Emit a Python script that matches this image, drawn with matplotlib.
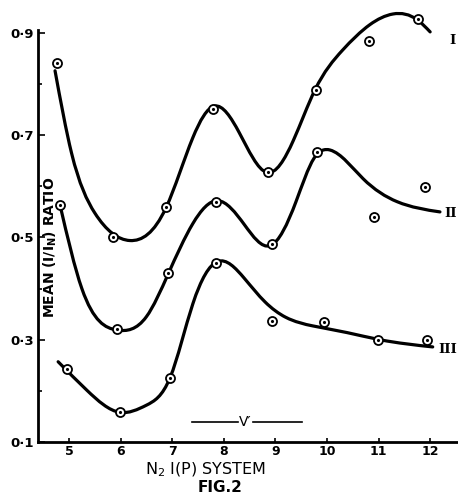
import numpy as np
import matplotlib
matplotlib.use("Agg")
import matplotlib.pyplot as plt
from matplotlib.path import Path
from matplotlib.patches import PathPatch

# measured points (circles)
pts1_x = [4.77, 5.85, 6.88, 7.79, 8.86, 9.79, 10.81, 11.76]
pts1_y = [0.842, 0.500, 0.560, 0.752, 0.628, 0.789, 0.884, 0.927]
pts2_x = [4.83, 5.93, 6.92, 7.85, 8.93, 9.81, 10.91, 11.90]
pts2_y = [0.564, 0.321, 0.430, 0.570, 0.488, 0.667, 0.541, 0.599]
pts3_x = [4.96, 5.99, 6.96, 7.85, 8.93, 9.94, 10.99, 11.94]
pts3_y = [0.242, 0.158, 0.226, 0.450, 0.337, 0.335, 0.300, 0.300]

# hand drawn curves, knots
crv1_x = [4.73, 5.05, 5.50, 6.18, 6.88, 7.40, 7.82, 8.30, 8.84, 9.35, 9.77, 10.30,
          10.83, 11.28, 11.76, 12.00]
crv1_y = [0.826, 0.665, 0.548, 0.494, 0.558, 0.695, 0.757, 0.705, 0.627, 0.690, 0.789, 0.866,
          0.916, 0.937, 0.925, 0.902]
crv2_x = [4.83, 5.25, 5.93, 6.50, 6.92, 7.40, 7.88, 8.40, 8.90, 9.40, 9.75, 10.06,
          10.70, 11.36, 12.19]
crv2_y = [0.562, 0.400, 0.319, 0.345, 0.428, 0.527, 0.572, 0.525, 0.484, 0.570, 0.655, 0.671,
          0.615, 0.570, 0.550]
crv3_x = [4.79, 5.35, 5.99, 6.50, 6.96, 7.40, 7.88, 8.40, 8.80, 9.20, 9.73, 10.39,
          11.03, 12.05]
crv3_y = [0.257, 0.201, 0.158, 0.172, 0.226, 0.370, 0.453, 0.420, 0.374, 0.344, 0.327, 0.314,
          0.300, 0.286]

curve_names = ["I", "II", "III"]
name_x = [12.38, 12.28, 12.15]
name_y = [0.886, 0.547, 0.280]

yticks = [0.1, 0.3, 0.5, 0.7, 0.9]
ytick_labels = ["0·1", "0·3", "0·5", "0·7", "0·9"]
yminor = [0.2, 0.4, 0.6, 0.8]
xticks = [5, 6, 7, 8, 9, 10, 11, 12]

vband_x = [7.38, 8.27, 8.57, 9.52]
vband_y = 0.139


def spline_slopes(x, y):
    # first derivatives of a natural cubic spline through the knots
    n = len(x)
    h = np.diff(x)
    d = np.diff(y) / h
    A = np.zeros((n, n))
    r = np.zeros(n)
    A[0, 0] = 2; A[0, 1] = 1; r[0] = 3 * d[0]
    A[-1, -2] = 1; A[-1, -1] = 2; r[-1] = 3 * d[-1]
    for i in range(1, n - 1):
        A[i, i - 1] = h[i]
        A[i, i] = 2 * (h[i - 1] + h[i])
        A[i, i + 1] = h[i - 1]
        r[i] = 3 * (h[i] * d[i - 1] + h[i - 1] * d[i])
    return np.linalg.solve(A, r)


def smooth_path(xs, ys):
    x = np.asarray(xs, float)
    y = np.asarray(ys, float)
    m = spline_slopes(x, y)
    verts = [(x[0], y[0])]
    codes = [Path.MOVETO]
    for i in range(len(x) - 1):
        dx = (x[i + 1] - x[i]) / 3.0
        verts += [(x[i] + dx, y[i] + m[i] * dx),
                  (x[i + 1] - dx, y[i + 1] - m[i + 1] * dx),
                  (x[i + 1], y[i + 1])]
        codes += [Path.CURVE4] * 3
    return Path(verts, codes)


fig = plt.figure(figsize=(4.58, 4.95), dpi=100)
ax = fig.add_axes([0.083, 0.107, 0.917, 0.873])
ax.set_xlim(4.40, 12.54)
ax.set_ylim(0.1, 0.945)

for cx, cy in [(crv1_x, crv1_y), (crv2_x, crv2_y), (crv3_x, crv3_y)]:
    ax.add_patch(PathPatch(smooth_path(cx, cy), fill=False, lw=2.3, ec="black",
                           capstyle="round", joinstyle="round"))

for px, py in [(pts1_x, pts1_y), (pts2_x, pts2_y), (pts3_x, pts3_y)]:
    ax.plot(px, py, "o", ms=6.5, mfc="white", mec="black", mew=1.3, ls="none", zorder=5)
    ax.plot(px, py, ".", ms=2.5, color="black", ls="none", zorder=6)

for nm, nx, ny in zip(curve_names, name_x, name_y):
    ax.text(nx, ny, nm, fontsize=9.5, fontweight="bold", family="DejaVu Serif",
            ha="left", va="center", clip_on=False)

# V' band
ax.plot(vband_x[:2], [vband_y, vband_y], color="black", lw=1.2)
ax.plot(vband_x[2:], [vband_y, vband_y], color="black", lw=1.2)
ax.text((vband_x[1] + vband_x[2]) / 2, vband_y, "V′", fontsize=10, ha="center", va="center")

for s in ["top", "right"]:
    ax.spines[s].set_visible(False)
ax.spines["left"].set_linewidth(2)
ax.spines["bottom"].set_linewidth(2)
ax.spines["left"].set_bounds(0.1, 0.905)

ax.set_yticks(yticks)
ax.set_yticklabels(ytick_labels, fontsize=9.5, fontweight="bold")
ax.set_yticks(yminor, minor=True)
ax.set_xticks(xticks)
ax.set_xticklabels([str(v) for v in xticks], fontsize=9, fontweight="bold")
ax.tick_params(axis="both", which="both", direction="in", width=1.2)
ax.tick_params(axis="y", which="major", length=5, pad=3)
ax.tick_params(axis="y", which="minor", length=3)
ax.tick_params(axis="x", length=3, pad=2)

ax.text(4.63, 0.48, "MEAN (I/I$_\\mathregular{N}$) RATIO", rotation=90, fontsize=10,
        fontweight="bold", ha="center", va="center")

fig.text(0.448, 0.050, "N$_\\mathregular{2}$ I(P) SYSTEM", fontsize=11.5, ha="center", va="center")
fig.text(0.48, 0.016, "FIG.2", fontsize=11, fontweight="bold", ha="center", va="center")

fig.savefig("out.png", dpi=100)
